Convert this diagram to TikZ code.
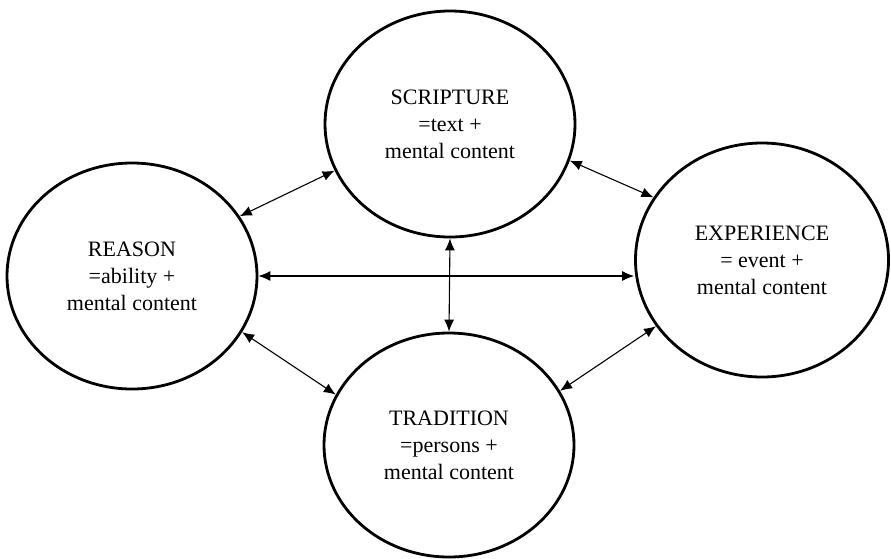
\documentclass[tikz,border=0pt]{standalone}
\usepackage{fontspec}
\setmainfont{Liberation Serif}
\usetikzlibrary{shapes.geometric,arrows.meta}
\begin{document}
\begin{tikzpicture}[x=1pt,y=-1pt,
  blob/.style={draw,ellipse,line width=2.8pt,inner sep=0pt,align=center,
    font=\fontsize{22}{27}\selectfont},
  link/.style={line width=1.1pt,{Latex[length=12pt,width=10pt]}-{Latex[length=12pt,width=10pt]}}]
\useasboundingbox (0,0) rectangle (891,558);
\node[blob,minimum width=250pt,minimum height=226pt] (rea) at (132,276) {REASON\\=ability +\\mental content};
\node[blob,minimum width=250pt,minimum height=226pt] (scr) at (450,124) {SCRIPTURE\\=text +\\mental content};
\node[blob,minimum width=253pt,minimum height=234pt] (exp) at (762,260) {EXPERIENCE\\= event +\\mental content};
\node[blob,minimum width=250pt,minimum height=224pt] (tra) at (449,445) {TRADITION\\=persons +\\mental content};
\draw[link] (rea.29.5) -- (scr.202.7);
\draw[link] (scr.-17.7) -- (exp.150.9);
\draw[link] (rea.east) -- (rea.east -| exp.west);
\draw[link] (scr.south) -- (tra.north);
\draw[link] (rea.-27.2) -- (tra.156.3);
\draw[link] (tra.26.2) -- (exp.212);
\end{tikzpicture}
\end{document}
